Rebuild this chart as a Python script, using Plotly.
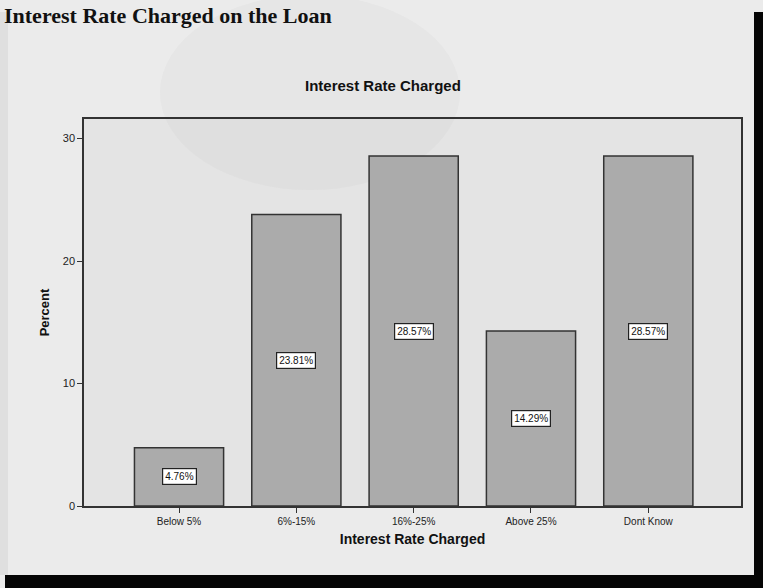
import plotly.graph_objects as go

# Interest rate bands and share of respondents (percent)
categories = ["Below 5%", "6%-15%", "16%-25%", "Above 25%", "Dont Know"]
percent = [4.76, 23.81, 28.57, 14.29, 28.57]
y_ticks = [0, 10, 20, 30]

W, H = 763, 588
L, R, T, B = 84, 22, 119, 82
PW, PH = W - L - R, H - T - B


def px(x):
    return (x - L) / PW


def py(y):
    return (H - B - y) / PH


fig = go.Figure()
fig.add_trace(go.Bar(
    x=list(range(len(categories))),
    y=percent,
    marker=dict(color="#ababab", line=dict(color="#333333", width=1.5)),
    width=0.76,
    hoverinfo="skip",
))

# value boxes at the middle of each bar
annotations = []
for i, v in enumerate(percent):
    annotations.append(dict(
        x=i, y=v / 2, xref="x", yref="y", text=f"{v:.2f}%", showarrow=False,
        font=dict(family="Liberation Sans, Arial", size=10, color="#111"),
        bgcolor="#ffffff", bordercolor="#222222", borderwidth=1.2, borderpad=2,
    ))

# chart title
annotations.append(dict(
    x=px(383), y=py(75), xref="paper", yref="paper", text="<b>Interest Rate Charged</b>",
    showarrow=False, font=dict(family="Liberation Sans, Arial", size=15, color="#111"),
))
# page heading above the chart
annotations.append(dict(
    x=px(2), y=py(1), xref="paper", yref="paper", xanchor="left", yanchor="top",
    text="<b>Interest Rate Charged on the Loan</b>", showarrow=False,
    font=dict(family="Liberation Serif, Times New Roman", size=22, color="#111"),
))

shapes = [
    # faint round stamp behind the chart title
    dict(type="circle", xref="paper", yref="paper", layer="below",
         x0=px(160), x1=px(460), y0=py(190), y1=py(-5),
         fillcolor="rgba(160,160,160,0.06)", line=dict(width=0)),
    # dark scanner edges
    dict(type="rect", xref="paper", yref="paper", x0=px(754), x1=px(770), y0=py(12), y1=py(600),
         fillcolor="#050505", line=dict(width=0)),
    dict(type="rect", xref="paper", yref="paper", x0=px(5), x1=px(770), y0=py(575), y1=py(600),
         fillcolor="#050505", line=dict(width=0)),
    # slightly darker strip at the left edge
    dict(type="rect", xref="paper", yref="paper", layer="below", x0=px(-5), x1=px(8), y0=py(12), y1=py(575),
         fillcolor="rgba(200,200,200,0.35)", line=dict(width=0)),
]

fig.update_layout(
    width=W, height=H,
    margin=dict(l=L, r=R, t=T, b=B),
    paper_bgcolor="#ebebeb",
    plot_bgcolor="#e4e4e4",
    showlegend=False,
    annotations=annotations,
    shapes=shapes,
    font=dict(family="Liberation Sans, Arial", color="#222"),
)
fig.update_xaxes(
    range=[-0.81, 4.79],
    tickmode="array", tickvals=list(range(len(categories))), ticktext=categories,
    ticks="outside", ticklen=5, tickcolor="#333", tickwidth=1.2,
    tickfont=dict(size=10, color="#222"),
    showline=True, linecolor="#333", linewidth=1.5, mirror=True,
    showgrid=False, zeroline=False,
    title=dict(text="<b>Interest Rate Charged</b>", font=dict(size=14, color="#111"), standoff=8),
)
fig.update_yaxes(
    range=[0, 31.6],
    tickmode="array", tickvals=y_ticks,
    ticks="outside", ticklen=5, tickcolor="#333", tickwidth=1.2,
    tickfont=dict(size=11, color="#222"),
    showline=True, linecolor="#333", linewidth=1.5, mirror=True,
    showgrid=False, zeroline=False,
    title=dict(text="<b>Percent</b>", font=dict(size=13, color="#111"), standoff=10),
)

fig.write_html("out.html")
